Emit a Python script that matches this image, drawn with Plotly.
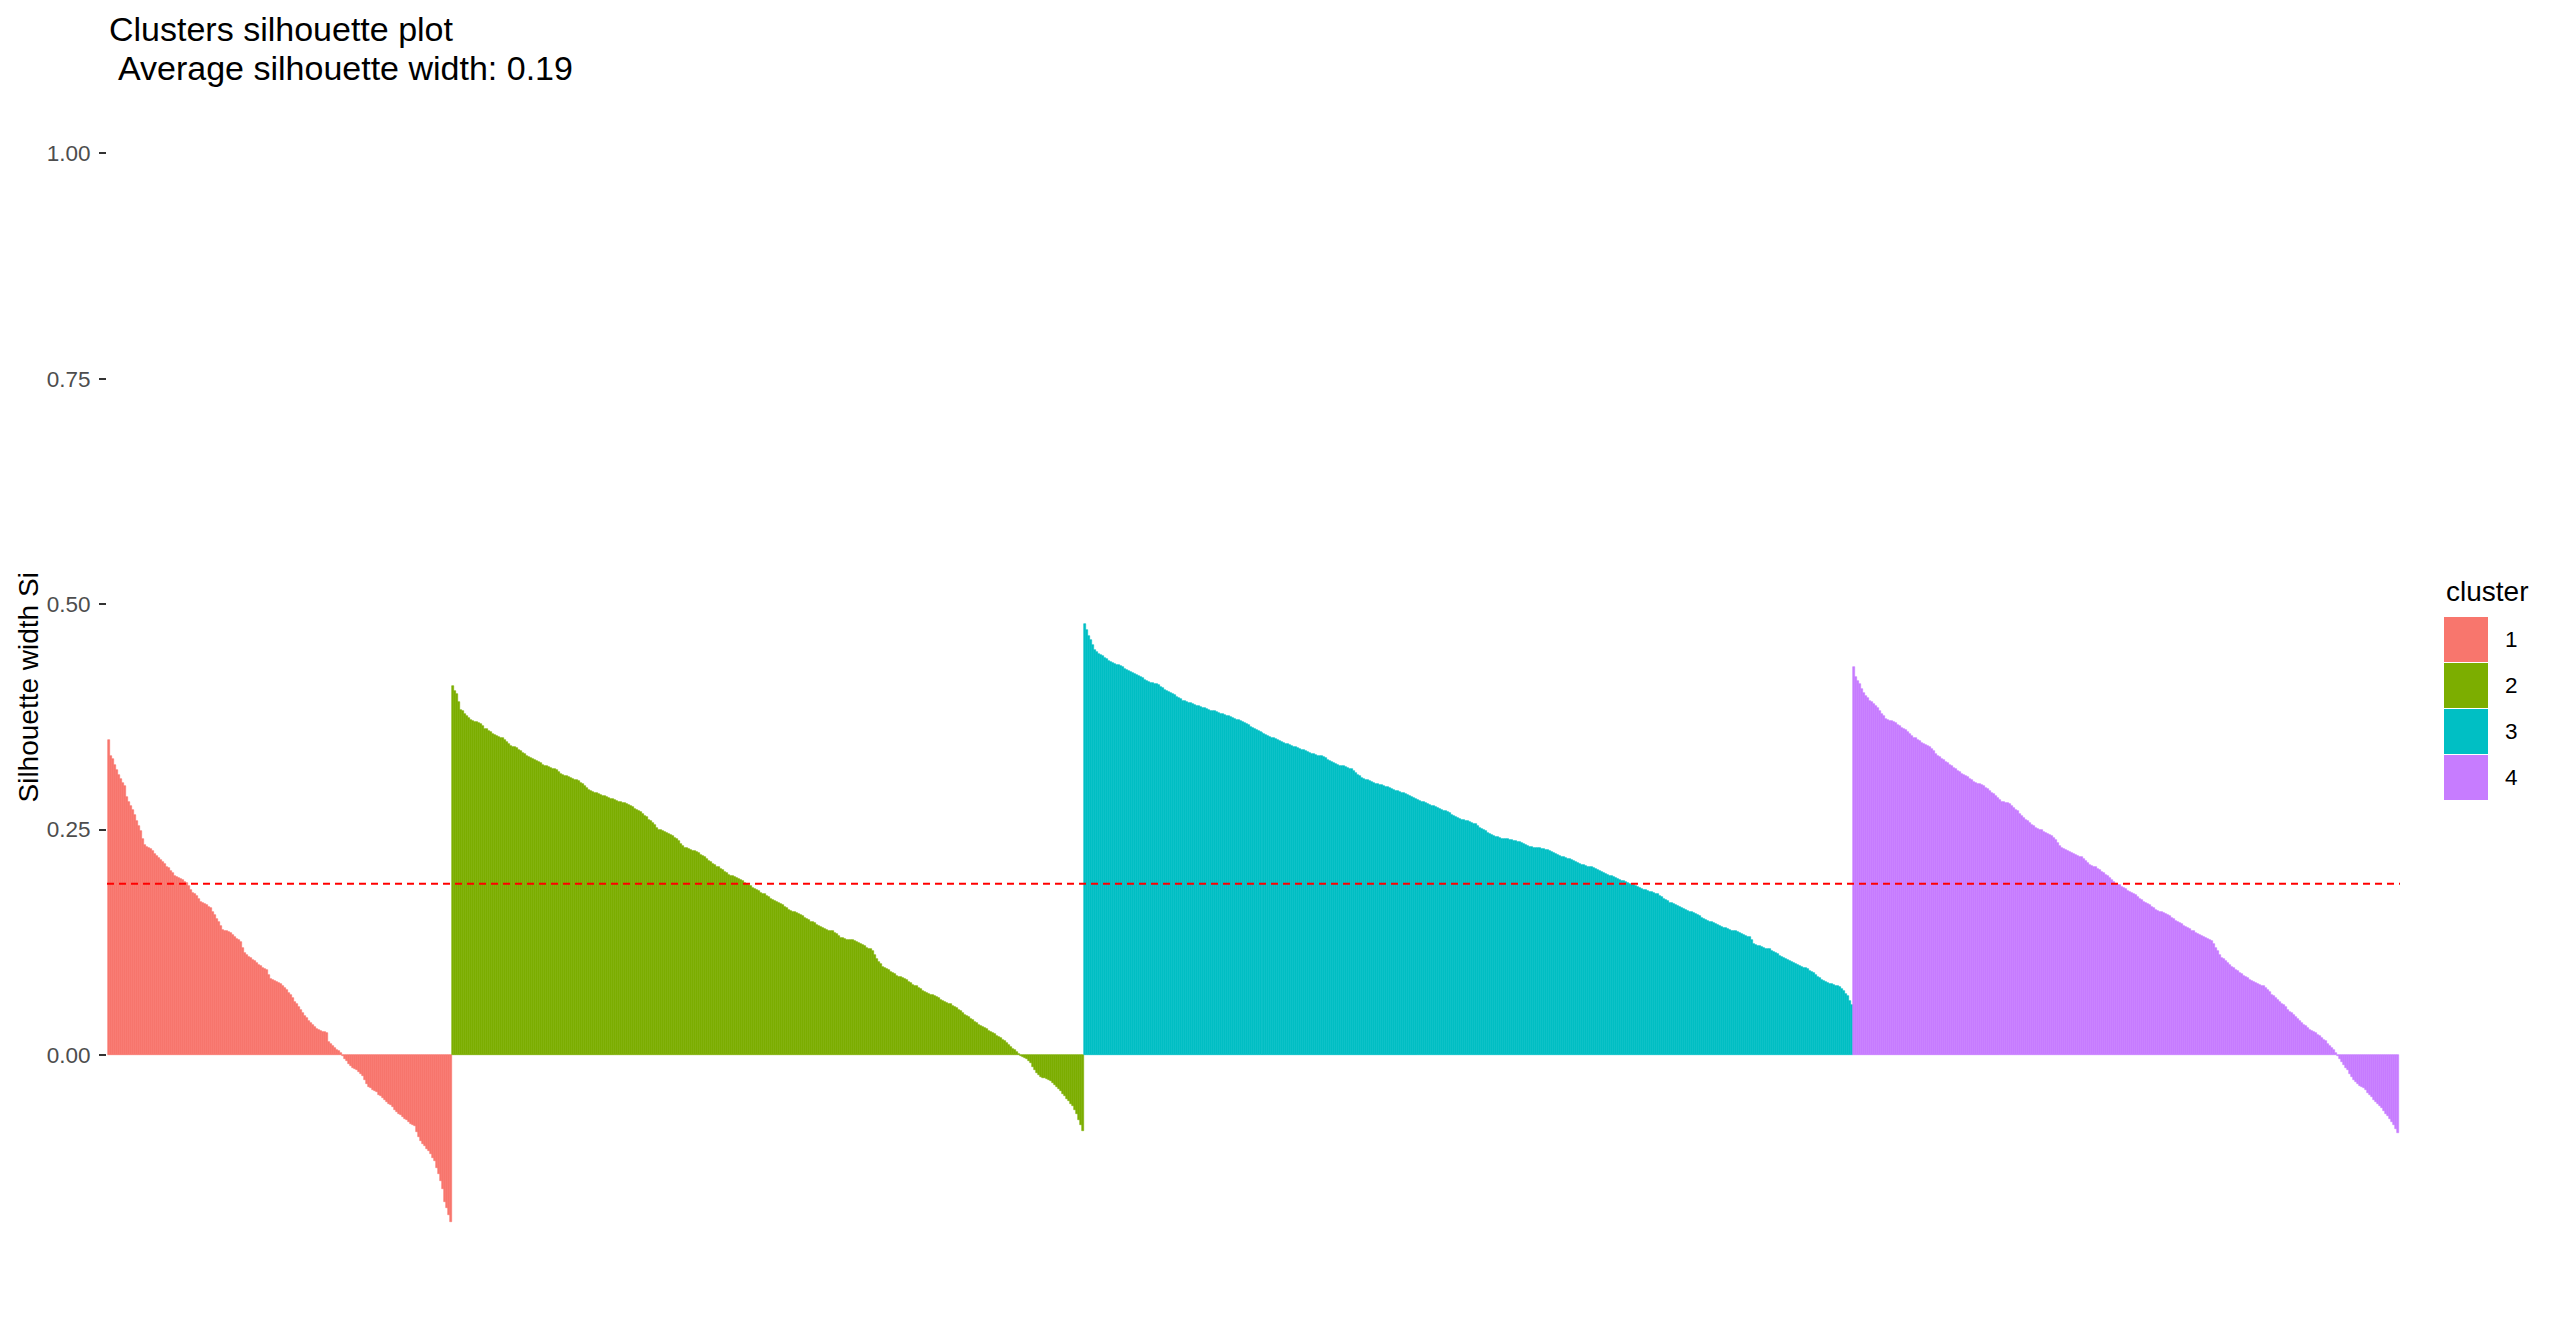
import numpy as np
import plotly.graph_objects as go

# ---------------- data ----------------
clusters = ["1", "2", "3", "4"]
cluster_colors = ["#F8766D", "#7CAE00", "#00BFC4", "#C77CFF"]
avg_width = 0.19
y_tick_vals = [0.0, 0.25, 0.5, 0.75, 1.0]
y_tick_text = ["0.00", "0.25", "0.50", "0.75", "1.00"]

# silhouette widths, in thousandths, sorted within each cluster
sil_c1 = [
    349, 332, 328, 322, 316, 310, 306, 302, 298, 286,
    281, 276, 272, 266, 260, 254, 248, 240, 233, 231,
    229, 228, 226, 223, 221, 218, 216, 214, 212, 209,
    207, 204, 202, 199, 197, 196, 195, 194, 192, 191,
    187, 183, 180, 178, 176, 173, 170, 168, 167, 166,
    164, 163, 159, 155, 151, 147, 143, 139, 138, 137,
    136, 135, 133, 131, 129, 127, 125, 119, 113, 111,
    109, 107, 105, 104, 102, 100, 99, 97, 95, 94,
    89, 84, 83, 82, 81, 80, 79, 77, 74, 72,
    69, 66, 63, 59, 56, 53, 50, 46, 43, 41,
    38, 36, 33, 31, 29, 28, 27, 26, 25, 24,
    14, 12, 10, 8, 6, 4, 2, -1, -4, -7,
    -10, -12, -14, -16, -17, -19, -21, -23, -28, -32,
    -36, -37, -39, -40, -41, -44, -46, -48, -50, -52,
    -54, -56, -58, -61, -63, -65, -67, -69, -71, -72,
    -74, -76, -78, -79, -85, -91, -95, -99, -101, -104,
    -106, -110, -114, -118, -125, -132, -140, -149, -163, -170,
    -177, -185,
]

sil_c2 = [
    409, 404, 400, 391, 383, 381, 378, 376, 374, 372,
    370, 369, 369, 368, 367, 365, 362, 361, 359, 358,
    356, 355, 354, 353, 352, 351, 349, 347, 345, 343,
    342, 341, 340, 338, 337, 335, 334, 332, 330, 329,
    328, 327, 326, 325, 324, 322, 321, 320, 319, 318,
    317, 317, 316, 314, 312, 311, 309, 309, 308, 307,
    306, 305, 305, 304, 302, 300, 298, 296, 294, 293,
    292, 291, 290, 289, 288, 287, 287, 286, 285, 284,
    284, 283, 282, 281, 280, 279, 279, 278, 277, 276,
    275, 273, 272, 270, 269, 267, 265, 264, 261, 259,
    257, 255, 252, 250, 249, 248, 247, 246, 245, 244,
    243, 241, 239, 237, 234, 232, 230, 229, 228, 227,
    226, 226, 225, 224, 222, 221, 219, 217, 215, 214,
    212, 211, 209, 208, 206, 205, 203, 202, 200, 199,
    198, 197, 196, 195, 194, 193, 191, 190, 189, 187,
    185, 184, 183, 182, 180, 179, 178, 176, 175, 173,
    172, 171, 170, 169, 167, 166, 164, 163, 161, 160,
    159, 158, 157, 156, 155, 154, 152, 151, 150, 148,
    147, 146, 144, 143, 142, 141, 140, 139, 138, 138,
    137, 135, 134, 132, 130, 130, 129, 128, 128, 127,
    127, 126, 125, 124, 123, 122, 121, 119, 118, 117,
    115, 111, 106, 103, 101, 98, 96, 95, 94, 92,
    91, 90, 88, 87, 86, 85, 84, 83, 81, 80,
    78, 77, 76, 74, 73, 71, 70, 69, 68, 67,
    66, 65, 64, 63, 61, 60, 59, 58, 57, 56,
    54, 53, 52, 50, 49, 47, 44, 43, 42, 40,
    39, 37, 35, 33, 32, 31, 30, 29, 27, 26,
    24, 23, 21, 20, 19, 17, 15, 13, 11, 9,
    7, 5, 3, 1, -1, -2, -3, -5, -7, -9,
    -13, -17, -20, -22, -24, -25, -26, -27, -28, -29,
    -31, -33, -35, -38, -40, -43, -46, -49, -51, -54,
    -57, -61, -66, -72, -78, -84,
]

sil_c3 = [
    478, 471, 465, 460, 455, 449, 447, 445, 443, 442,
    440, 439, 437, 436, 435, 434, 433, 432, 431, 430,
    428, 427, 426, 425, 424, 422, 421, 420, 419, 418,
    416, 415, 414, 413, 412, 411, 411, 410, 408, 407,
    405, 404, 402, 401, 400, 399, 397, 396, 395, 393,
    392, 391, 390, 390, 389, 388, 387, 387, 386, 385,
    385, 384, 383, 382, 382, 381, 380, 379, 378, 378,
    377, 376, 376, 375, 374, 373, 372, 371, 370, 369,
    368, 367, 366, 364, 363, 362, 360, 359, 358, 357,
    356, 355, 354, 353, 352, 351, 350, 349, 348, 347,
    346, 345, 345, 344, 343, 342, 341, 340, 339, 338,
    338, 337, 336, 335, 334, 334, 333, 332, 331, 331,
    330, 329, 327, 326, 325, 324, 323, 322, 321, 320,
    320, 319, 318, 317, 317, 315, 313, 311, 309, 307,
    306, 305, 305, 304, 303, 302, 301, 300, 299, 299,
    298, 297, 297, 296, 295, 294, 293, 293, 292, 291,
    290, 289, 288, 287, 286, 285, 284, 283, 282, 281,
    280, 279, 278, 277, 276, 276, 275, 274, 273, 272,
    271, 270, 269, 268, 266, 265, 264, 263, 262, 261,
    261, 260, 259, 258, 257, 256, 256, 254, 252, 251,
    249, 248, 246, 245, 244, 243, 242, 242, 241, 240,
    240, 239, 239, 238, 238, 237, 237, 236, 236, 235,
    234, 233, 232, 231, 231, 230, 230, 229, 229, 228,
    228, 227, 227, 226, 225, 224, 223, 222, 221, 220,
    219, 218, 217, 217, 216, 215, 214, 213, 212, 211,
    211, 210, 209, 209, 208, 207, 206, 205, 204, 203,
    202, 201, 200, 199, 198, 197, 196, 195, 194, 193,
    193, 192, 191, 190, 189, 188, 187, 186, 185, 184,
    183, 183, 182, 181, 181, 180, 179, 178, 176, 175,
    173, 172, 171, 169, 168, 167, 166, 165, 164, 163,
    162, 161, 160, 159, 158, 157, 156, 155, 154, 152,
    151, 150, 149, 148, 147, 146, 145, 144, 143, 142,
    141, 141, 140, 139, 138, 137, 137, 136, 135, 134,
    133, 132, 131, 131, 127, 123, 122, 121, 121, 120,
    119, 118, 118, 117, 115, 114, 113, 112, 110, 109,
    107, 106, 105, 104, 103, 102, 101, 100, 99, 98,
    97, 96, 95, 93, 92, 91, 89, 87, 85, 83,
    82, 81, 80, 79, 79, 78, 77, 76, 75, 73,
    71, 68, 65, 60, 55,
]

sil_c4 = [
    430, 419, 415, 411, 406, 401, 398, 396, 393, 391,
    389, 387, 385, 382, 378, 376, 373, 371, 370, 370,
    369, 368, 366, 365, 363, 362, 360, 358, 356, 354,
    352, 351, 349, 348, 346, 345, 344, 343, 341, 339,
    337, 334, 331, 330, 328, 327, 325, 324, 322, 320,
    318, 317, 315, 314, 312, 311, 309, 308, 306, 305,
    303, 302, 301, 300, 299, 298, 296, 295, 293, 291,
    289, 287, 285, 283, 281, 280, 279, 279, 278, 276,
    274, 272, 270, 267, 265, 263, 261, 259, 257, 255,
    254, 252, 251, 250, 249, 247, 246, 245, 244, 243,
    241, 238, 235, 232, 230, 228, 227, 226, 225, 224,
    223, 222, 221, 220, 219, 217, 215, 213, 211, 210,
    209, 208, 206, 205, 203, 202, 200, 198, 196, 194,
    192, 190, 189, 188, 186, 185, 184, 182, 181, 180,
    178, 177, 175, 173, 172, 170, 169, 167, 166, 164,
    163, 161, 160, 159, 158, 157, 156, 155, 154, 152,
    151, 149, 148, 146, 145, 143, 142, 141, 140, 138,
    137, 135, 134, 133, 132, 131, 130, 129, 128, 126,
    123, 119, 115, 111, 108, 106, 104, 102, 100, 98,
    96, 94, 93, 91, 90, 88, 86, 85, 83, 82,
    81, 80, 79, 78, 77, 76, 74, 72, 70, 67,
    65, 63, 61, 59, 57, 55, 53, 50, 48, 46,
    44, 42, 40, 38, 36, 33, 32, 30, 28, 27,
    25, 24, 22, 21, 19, 17, 15, 12, 10, 8,
    6, 2, -1, -4, -8, -11, -14, -17, -21, -24,
    -28, -30, -32, -34, -35, -37, -39, -42, -44, -47,
    -50, -52, -54, -57, -59, -62, -65, -68, -71, -74,
    -78, -82, -86,
]

cluster_values = [sil_c1, sil_c2, sil_c3, sil_c4]

# ---------------- layout geometry ----------------
# page is drawn with the browser's default 8px body margin
PAGE_OFF = 8
W, H = 2560 - PAGE_OFF, 1334 - PAGE_OFF
PLOT_L, PLOT_R, PLOT_T, PLOT_B = 107, 2400, 100, 1275   # target page px of panel
ML = PLOT_L - PAGE_OFF
MR = W - (PLOT_R - PAGE_OFF)
MT = PLOT_T - PAGE_OFF
MB = H - (PLOT_B - PAGE_OFF)
PW, PH = W - ML - MR, H - MT - MB
FONT = "Liberation Sans, Arial, sans-serif"


def px_x(px):
    """page x pixel -> paper coordinate"""
    return (px - PAGE_OFF - ML) / PW


def px_y(py):
    """page y pixel -> paper coordinate"""
    return (H - MB - (py - PAGE_OFF)) / PH


fig = go.Figure()
start = 0
for name, col, vals in zip(clusters, cluster_colors, cluster_values):
    y = np.array(vals, dtype=float) / 1000.0
    x = np.arange(start, start + len(y))
    fig.add_trace(go.Bar(
        x=x, y=y, name=name, showlegend=False,
        marker=dict(color=col, line=dict(width=0.6, color=col)),
        hoverinfo="skip",
    ))
    start += len(y)
n_total = start

# average silhouette line
fig.add_shape(type="line", xref="paper", yref="y", x0=0, x1=1,
              y0=avg_width, y1=avg_width,
              line=dict(color="#FF0000", width=2, dash="7px,5px"))

# manual legend (ggplot-like keys)
key_w, key_h, key_gap = 44, 45, 1
leg_x = 2444
leg_top = 617
annotations = [
    dict(text="cluster", xref="paper", yref="paper", x=px_x(leg_x), y=px_y(591),
         xanchor="left", yanchor="middle", showarrow=False,
         font=dict(family=FONT, size=28, color="#000000")),
]
for i, (name, col) in enumerate(zip(clusters, cluster_colors)):
    top = leg_top + i * (key_h + key_gap)
    fig.add_shape(type="rect", xref="paper", yref="paper",
                  x0=px_x(leg_x), x1=px_x(leg_x + key_w),
                  y0=px_y(top + key_h), y1=px_y(top),
                  fillcolor=col, line=dict(width=0))
    annotations.append(dict(text=name, xref="paper", yref="paper",
                            x=px_x(2503), y=px_y(top + key_h / 2),
                            xanchor="left", yanchor="middle", showarrow=False,
                            font=dict(family=FONT, size=22.5, color="#000000")))

# titles
annotations.append(dict(text="Clusters silhouette plot", xref="paper", yref="paper",
                        x=px_x(107), y=px_y(29), xanchor="left", yanchor="middle",
                        showarrow=False, font=dict(family=FONT, size=34, color="#000000")))
annotations.append(dict(text="Average silhouette width: 0.19", xref="paper", yref="paper",
                        x=px_x(116), y=px_y(68), xanchor="left", yanchor="middle",
                        showarrow=False, font=dict(family=FONT, size=34, color="#000000")))
# y axis title
annotations.append(dict(text="Silhouette width Si", xref="paper", yref="paper",
                        x=px_x(28), y=0.5, xanchor="center", yanchor="middle",
                        textangle=-90, showarrow=False,
                        font=dict(family=FONT, size=28, color="#000000")))

fig.update_layout(
    width=W, height=H,
    margin=dict(l=ML, r=MR, t=MT, b=MB, autoexpand=False),
    paper_bgcolor="white", plot_bgcolor="white",
    barmode="overlay", bargap=0, bargroupgap=0,
    showlegend=False,
    annotations=annotations,
    font=dict(family=FONT),
    xaxis=dict(visible=False, range=[-1.1, n_total - 1 + 1.1], fixedrange=True),
    yaxis=dict(
        range=[-0.244, 1.059],
        tickmode="array", tickvals=y_tick_vals, ticktext=y_tick_text,
        ticks="outside", ticklen=7, tickwidth=2, tickcolor="#333333",
        tickfont=dict(family=FONT, size=22.5, color="#4D4D4D"),
        ticklabelstandoff=4,
        showgrid=False, zeroline=False, showline=False,
    ),
)

fig.write_html("out.html")
